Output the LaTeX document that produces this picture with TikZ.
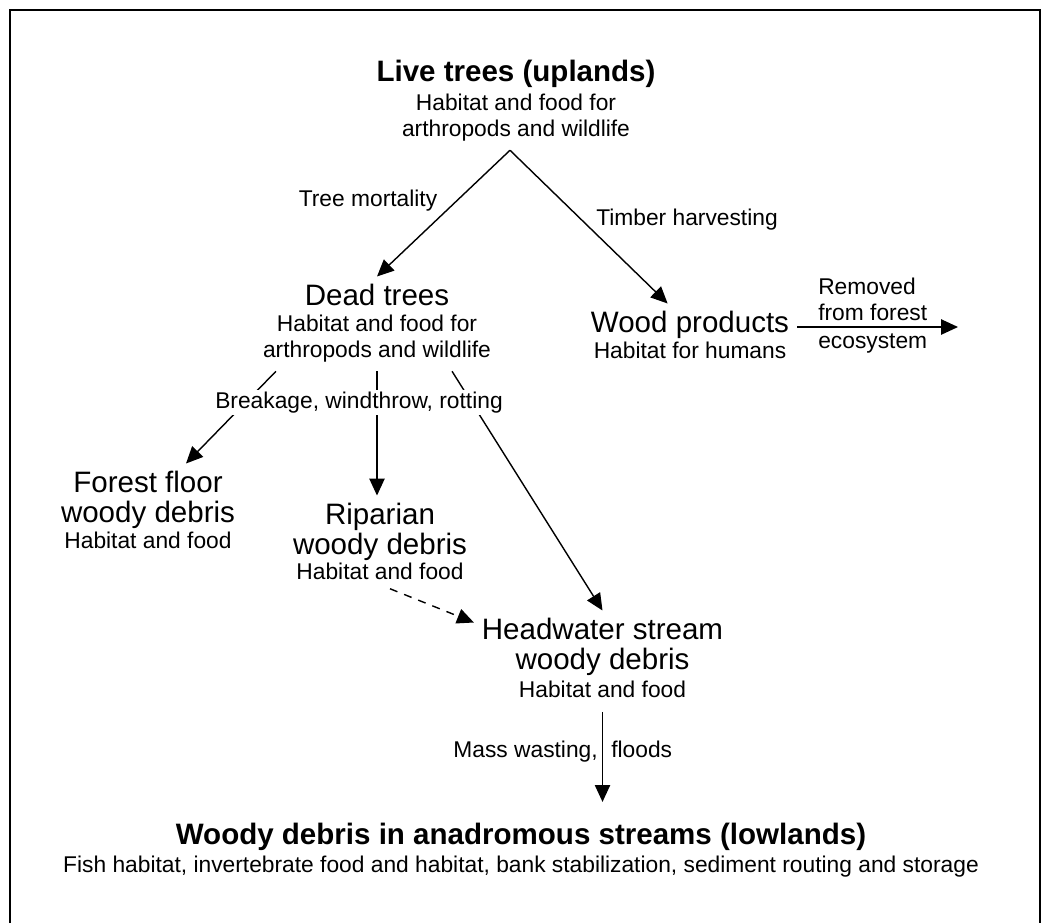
\documentclass[tikz,border=0pt]{standalone}
\usepackage{fontspec}
\setmainfont{Liberation Sans}
\usetikzlibrary{arrows.meta}

\begin{document}
\begin{tikzpicture}[x=0.025cm,y=-0.025cm,
    stage/.style={font=\fontsize{21pt}{21.3pt}\selectfont,align=center,
      anchor=north,inner sep=0pt,outer sep=0.2cm},
    stagebold/.style={stage,font=\fontsize{21pt}{21.3pt}\selectfont\bfseries},
    note/.style={font=\fontsize{16.2pt}{18.5pt}\selectfont,align=center,
      anchor=north,inner sep=0pt,outer sep=0.22cm},
    lbl/.style={font=\fontsize{16.2pt}{18.5pt}\selectfont,inner sep=0pt,anchor=base},
    arr/.style={-{Triangle[length=0.42cm,width=0.38cm]},line width=1pt}
  ]
    \useasboundingbox (0,0) rectangle (1049,923);
    \draw[line width=1.4pt] (10,923) -- (10,10) -- (1040,10) -- (1040,923);

    \node[stagebold] (live) at (516,52.5) {Live trees (uplands)};
    \node[note] (livenote) at (516,85.4) {Habitat and food for\\arthropods and wildlife};
    \coordinate (fork) at ([xshift=-0.15cm]livenote.south);
    \node[stage] (dead) at (377,276.5) {Dead trees};
    \node[note] (deadnote) at (377,306.4) {Habitat and food for\\arthropods and wildlife};
    \node[stage] (wood) at (690,303.5) {Wood products};
    \node[note] (woodnote) at (690,333.4) {Habitat for humans};
    \coordinate (exit) at (958,327);
    \node[lbl] (mort) at (368,206) {Tree mortality};
    \node[lbl] (timber) at (687,225) {Timber harvesting};
    \node[lbl,anchor=north west,align=left] (removed) at (818,277.5) {Removed\\from forest};
    \node[lbl,anchor=base west] (eco) at (818,348) {ecosystem};
    \draw[arr] (fork) -- (dead.north);
    \draw[arr] (fork) -- (wood);
    \draw[arr] (wood.east |- exit) -- (exit);

    \node[stage] (floor) at (148,463.5) {Forest floor\\woody debris};
    \node[note] (floornote) at (148,523.4) {Habitat and food};
    \node[stage] (rip) at (380,495.5) {Riparian\\woody debris};
    \node[note] (ripnote) at (380,554.4) {Habitat and food};
    \node[stage] (head) at (602.5,610.5) {Headwater stream\\woody debris};
    \node[note] (headnote) at (602.5,672.4) {Habitat and food};
    \draw[arr] ([xshift=-2.525cm]deadnote.south) -- ([xshift=0.95cm]floor.north);
    \draw[arr] (deadnote.south) -- (deadnote.south |- rip.north);
    \draw[arr] ([xshift=1.875cm]deadnote.south) -- (head.north);
    \node[lbl,fill=white,inner sep=0.05cm] (breakage) at (359,408) {Breakage, windthrow, rotting};
    \draw[arr,dash pattern=on 0.2cm off 0.18cm] ([xshift=0.25cm]ripnote.south) -- ([yshift=-0.3cm]head.north west);

    \node[stagebold] (low) at (521,815.5) {Woody debris in anadromous streams (lowlands)};
    \node[note] (lownote) at (521,847.4) {Fish habitat, invertebrate food and habitat, bank stabilization, sediment routing and storage};
    \draw[arr,shorten <=0.125cm,shorten >=0.34cm] (headnote.south) -- (headnote.south |- low.north);
    \node[lbl,anchor=base east] (mass) at (598,757) {Mass wasting,};
    \node[lbl,anchor=base west] (floods) at (611,757) {floods};
  \end{tikzpicture}
\end{document}
